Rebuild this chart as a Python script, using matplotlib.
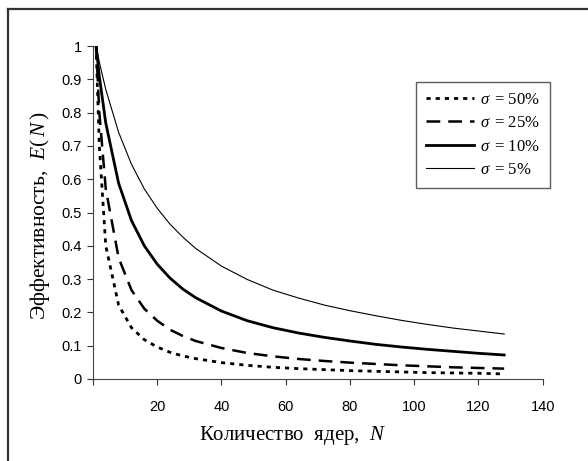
import matplotlib.pyplot as plt
from matplotlib.lines import Line2D

plt.rcParams['mathtext.fontset'] = 'custom'
plt.rcParams['mathtext.rm'] = 'Liberation Serif'
plt.rcParams['mathtext.it'] = 'Liberation Serif:italic'

### values (N = number of cores)
n_cores = [1, 2, 4, 8, 12, 16, 20, 24, 28, 32, 40, 48, 56, 64, 72, 80, 88, 96, 104, 112, 120, 128]
eff_50 = [1.0, 0.70, 0.40, 0.222, 0.154, 0.118, 0.096, 0.080, 0.069, 0.061, 0.049, 0.041,
          0.035, 0.031, 0.028, 0.025, 0.023, 0.021, 0.019, 0.018, 0.017, 0.015]
eff_25 = [1.0, 0.80, 0.571, 0.364, 0.267, 0.211, 0.175, 0.148, 0.129, 0.114, 0.093, 0.078,
          0.068, 0.060, 0.054, 0.049, 0.045, 0.041, 0.038, 0.035, 0.033, 0.031]
eff_10 = [1.0, 0.909, 0.769, 0.588, 0.476, 0.400, 0.345, 0.303, 0.270, 0.244, 0.204, 0.175,
          0.154, 0.138, 0.125, 0.114, 0.104, 0.096, 0.089, 0.083, 0.077, 0.072]
eff_5 = [1.0, 0.952, 0.870, 0.741, 0.645, 0.571, 0.513, 0.465, 0.426, 0.392, 0.339, 0.299,
         0.267, 0.243, 0.222, 0.205, 0.190, 0.176, 0.164, 0.153, 0.144, 0.135]
legend_labels = [r'$\sigma\,$ = 50%', r'$\sigma\,$ = 25%', r'$\sigma\,$ = 10%', r'$\sigma\,$ = 5%']

fig = plt.figure(figsize=(5.88, 4.61), dpi=100)
ax = fig.add_axes([0.158, 0.178, 0.765, 0.722])

ax.plot(n_cores, eff_50, color='black', lw=2.0, linestyle=(0, (1.5, 1.8)), label=legend_labels[0])
ax.plot(n_cores, eff_25, color='black', lw=1.8, linestyle=(0, (5.5, 3.2)), label=legend_labels[1])
ax.plot(n_cores, eff_10, color='black', lw=2.0, label=legend_labels[2])
ax.plot(n_cores, eff_5, color='black', lw=0.8, label=legend_labels[3])

ax.set_xlim(0, 140)
ax.set_ylim(0, 1)
ax.set_xticks(range(0, 141, 20))
ax.set_xticklabels([''] + [str(v) for v in range(20, 141, 20)])
ax.set_yticks([i / 10 for i in range(11)])
ax.set_yticklabels(['0'] + ['%.1f' % (i / 10) for i in range(1, 10)] + ['1'])
for lab in ax.get_xticklabels() + ax.get_yticklabels():
    lab.set_fontfamily('Liberation Sans')
    lab.set_fontsize(10.5)
ax.tick_params(direction='out', length=4, width=0.8, color='#333333')
ax.tick_params(axis='x', pad=11)
ax.tick_params(axis='y', pad=4)
ax.spines['top'].set_visible(False)
ax.spines['right'].set_visible(False)
ax.spines['left'].set_color('#444444')
ax.spines['bottom'].set_color('#444444')

ax.set_xlabel('Количество  ядер,  $N$', fontfamily='Liberation Serif', fontsize=15)
ax.set_ylabel(r'Эффективность,  $E(\,N\,)$', fontfamily='Liberation Serif', fontsize=15.5)
ax.xaxis.set_label_coords(0.444, -0.135)
ax.yaxis.set_label_coords(-0.092, 0.49)

leg = ax.legend(loc='upper left', bbox_to_anchor=(0.718, 0.893), frameon=True, fancybox=False,
                edgecolor='#333333', prop={'family': 'Liberation Serif', 'size': 12},
                handlelength=2.9, handletextpad=0.35, labelspacing=0.45, borderpad=0.6,
                borderaxespad=0)
leg.get_frame().set_linewidth(1.0)

# outer frame of the picture (cut on right and bottom)
fig.add_artist(Line2D([0.0136, 1.0], [0.980, 0.980], transform=fig.transFigure, color='#333333', lw=1.6))
fig.add_artist(Line2D([0.0136, 0.0136], [0.980, 0.0], transform=fig.transFigure, color='#333333', lw=1.6))

fig.savefig('out.png', dpi=100)
